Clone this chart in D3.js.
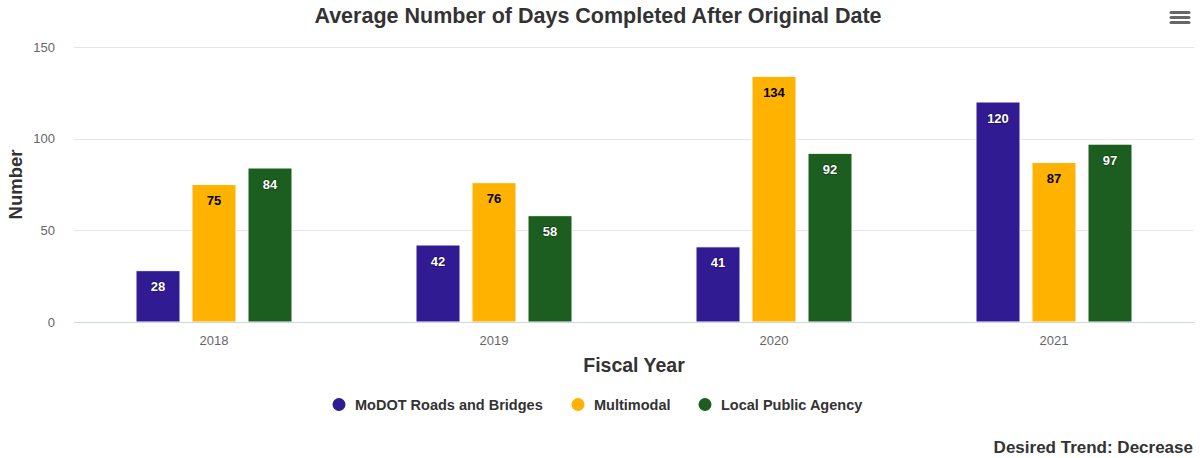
<!DOCTYPE html>
<html><head><meta charset="utf-8">
<script src="https://cdn.jsdelivr.net/npm/d3@7"></script>
<style>body{margin:0;background:#fff;font-family:"Liberation Sans",Arial,Helvetica,sans-serif}</style>
</head><body>
<svg id="chart" width="1200" height="458"></svg>
<script>
const categories = ["2018", "2019", "2020", "2021"];
const seriesNames = ["MoDOT Roads and Bridges", "Multimodal", "Local Public Agency"];
const modotValues = [28, 42, 41, 120];
const multimodalValues = [75, 76, 134, 87];
const lpaValues = [84, 58, 92, 97];
const yTicks = [0, 50, 100, 150];
const colors = ["#311b92", "#ffb300", "#1b5e20"];
const labelColors = ["#ffffff", "#000000", "#ffffff"];

const series = [modotValues, multimodalValues, lpaValues];
const svg = d3.select("#chart");
const font = '"Liberation Sans",Arial,Helvetica,sans-serif';
const plot = {left: 74, right: 1194, top: 47, bottom: 322};

const x = d3.scaleBand().domain(categories).range([plot.left, plot.right]).paddingInner(0).paddingOuter(0);
const xs = d3.scaleBand().domain(d3.range(series.length)).range([0, 156]).paddingInner(12 / 56).paddingOuter(0);
const y = d3.scaleLinear().domain([0, 150]).range([plot.bottom, plot.top]);

// grid
svg.append("g").selectAll("line").data(yTicks.filter(d => d > 0)).join("line")
  .attr("x1", plot.left).attr("x2", plot.right)
  .attr("y1", d => Math.round(y(d)) + 0.5).attr("y2", d => Math.round(y(d)) + 0.5)
  .attr("stroke", "#e6e6e6").attr("stroke-width", 1);

// y labels
svg.append("g").selectAll("text").data(yTicks).join("text")
  .attr("x", 55).attr("y", d => y(d) + 4.5)
  .attr("text-anchor", "end").attr("font-family", font).attr("font-size", 13)
  .attr("fill", "#666").text(d => d);

// bars
const groupOffset = (x.bandwidth() - 156) / 2;
series.forEach((vals, si) => {
  const g = svg.append("g");
  g.selectAll("rect").data(vals).join("rect")
    .attr("x", (d, i) => x(categories[i]) + groupOffset + xs(si))
    .attr("y", d => y(d))
    .attr("width", xs.bandwidth())
    .attr("height", d => y(0) - y(d))
    .attr("fill", colors[si]).attr("stroke", "#fff").attr("stroke-width", 1);
  g.selectAll("text").data(vals).join("text")
    .attr("x", (d, i) => x(categories[i]) + groupOffset + xs(si) + xs.bandwidth() / 2)
    .attr("y", d => y(d) + 20.5)
    .attr("text-anchor", "middle").attr("font-family", font).attr("font-size", 13)
    .attr("font-weight", "bold").attr("fill", labelColors[si])
    .attr("stroke", si === 1 ? "none" : "rgba(0,0,0,0.35)").attr("stroke-width", 1.5)
    .attr("paint-order", "stroke")
    .text(d => d);
});

// x axis line
svg.append("line").attr("x1", plot.left).attr("x2", plot.right)
  .attr("y1", plot.bottom + 0.5).attr("y2", plot.bottom + 0.5)
  .attr("stroke", "#ccd6eb").attr("stroke-width", 1);

// x labels
svg.append("g").selectAll("text").data(categories).join("text")
  .attr("x", d => x(d) + x.bandwidth() / 2).attr("y", 345)
  .attr("text-anchor", "middle").attr("font-family", font).attr("font-size", 13)
  .attr("fill", "#666").text(d => d);

// title
svg.append("text").attr("x", 598).attr("y", 23).attr("text-anchor", "middle")
  .attr("font-family", font).attr("font-size", 21.5).attr("font-weight", "bold")
  .attr("fill", "#333").text("Average Number of Days Completed After Original Date");

// axis titles
svg.append("text").attr("x", (plot.left + plot.right) / 2).attr("y", 372).attr("text-anchor", "middle")
  .attr("font-family", font).attr("font-size", 19.5).attr("font-weight", "bold")
  .attr("fill", "#333").text("Fiscal Year");
svg.append("text").attr("transform", `translate(22,${(plot.top + plot.bottom) / 2}) rotate(-90)`)
  .attr("text-anchor", "middle")
  .attr("font-family", font).attr("font-size", 18.5).attr("font-weight", "bold")
  .attr("fill", "#333").text("Number");

// legend
const legendX = [339, 578, 705];
const lg = svg.append("g");
seriesNames.forEach((name, i) => {
  lg.append("circle").attr("cx", legendX[i]).attr("cy", 404.5).attr("r", 6.5).attr("fill", colors[i]);
  lg.append("text").attr("x", legendX[i] + 16).attr("y", 410)
    .attr("font-family", font).attr("font-size", 14.5).attr("font-weight", "bold")
    .attr("fill", "#333").text(name);
});

// desired trend
svg.append("text").attr("x", 1193).attr("y", 453).attr("text-anchor", "end")
  .attr("font-family", font).attr("font-size", 17).attr("font-weight", "bold")
  .attr("fill", "#333").text("Desired Trend: Decrease");

// hamburger
[0, 5, 10].forEach(dy => {
  svg.append("line").attr("x1", 1171).attr("x2", 1189).attr("y1", 12.5 + dy).attr("y2", 12.5 + dy)
    .attr("stroke", "#666").attr("stroke-width", 3).attr("stroke-linecap", "round");
});
</script>
</body></html>
